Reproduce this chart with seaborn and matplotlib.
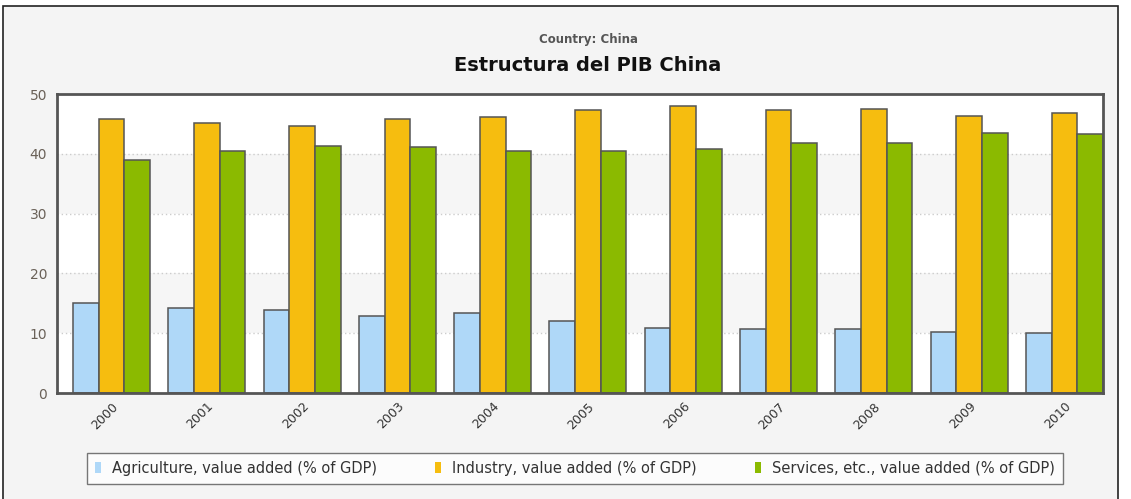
import pandas as pd
import numpy as np
import matplotlib.pyplot as plt
import seaborn as sns
from matplotlib.patches import Rectangle

years = ['2000', '2001', '2002', '2003', '2004', '2005', '2006', '2007', '2008', '2009', '2010']
agriculture = [15.0, 14.2, 13.8, 12.8, 13.3, 12.1, 10.9, 10.7, 10.7, 10.2, 10.0]
industry = [45.8, 45.1, 44.6, 45.8, 46.1, 47.3, 48.0, 47.3, 47.5, 46.4, 46.8]
services = [39.0, 40.4, 41.3, 41.1, 40.4, 40.4, 40.8, 41.8, 41.8, 43.5, 43.3]
series_names = ['Agriculture, value added (% of GDP)',
                'Industry, value added (% of GDP)',
                'Services, etc., value added (% of GDP)']
colors = ['#afd8f8', '#f6bd0f', '#8bba00']

df = pd.DataFrame({
    'year': years * 3,
    'value': agriculture + industry + services,
    'series': [series_names[0]] * 11 + [series_names[1]] * 11 + [series_names[2]] * 11,
})

sns.set_style('white')
plt.rcParams['font.family'] = ['DejaVu Sans']

fig = plt.figure(figsize=(11.31, 4.99), dpi=100)
fig.patch.set_facecolor('white')
# panel background with dark border
fig.patches.append(Rectangle((0.003, -0.02), 0.9855, 1.008, transform=fig.transFigure,
                             facecolor='#f4f4f4', edgecolor='#222222', linewidth=1.2, zorder=-10))

ax = fig.add_axes([0.0504, 0.2124, 0.9248, 0.5992])
ax.set_facecolor('white')

# alternating bands and dotted grid
for lo in [10, 30]:
    ax.axhspan(lo, lo + 10, color='#f6f6f6', zorder=0, lw=0)
for y in [10, 20, 30, 40]:
    ax.axhline(y, color='#cccccc', linestyle=(0, (1, 2)), linewidth=1, zorder=0.5)

bw = 0.808
sns.barplot(data=df, x='year', y='value', hue='series', palette=colors,
            width=bw, edgecolor='#555555', linewidth=1.1, saturation=1,
            ax=ax, zorder=2)

ax.set_ylim(0, 50)
ax.set_xlim(-bw / 2 - 0.168, 10 + bw / 2)
ax.set_yticks([0, 10, 20, 30, 40, 50])
ax.set_xlabel('')
ax.set_ylabel('')
ax.tick_params(axis='y', length=0, labelsize=10, labelcolor='#6a6158', pad=7)
ax.tick_params(axis='x', length=0, labelsize=9, labelcolor='#333333', pad=5)
for lab in ax.get_xticklabels():
    lab.set_rotation(45)
    lab.set_ha('right')
    lab.set_rotation_mode('anchor')
for s in ax.spines.values():
    s.set_color('#555555')
    s.set_linewidth(2)

handles, labels = ax.get_legend_handles_labels()
ax.legend(handles, labels, loc='upper left', bbox_to_anchor=(0.0287, -0.2), ncol=3,
          frameon=True, fancybox=False, edgecolor='#555555', facecolor='white',
          fontsize=10.5, handlelength=0.4, handleheight=0.75, handletextpad=0.75,
          columnspacing=4.0, borderpad=0.55, borderaxespad=0, labelcolor='#333333')
leg = ax.get_legend()
leg.get_frame().set_linewidth(1)
for h in leg.legend_handles:
    h.set_edgecolor('none')

fig.text(0.52, 0.92, 'Country: China', ha='center', va='center', fontsize=8.5,
         fontweight='bold', color='#555555')
fig.text(0.52, 0.868, 'Estructura del PIB China', ha='center', va='center', fontsize=14,
         fontweight='bold', color='#111111')

fig.savefig('out.png', dpi=100)
